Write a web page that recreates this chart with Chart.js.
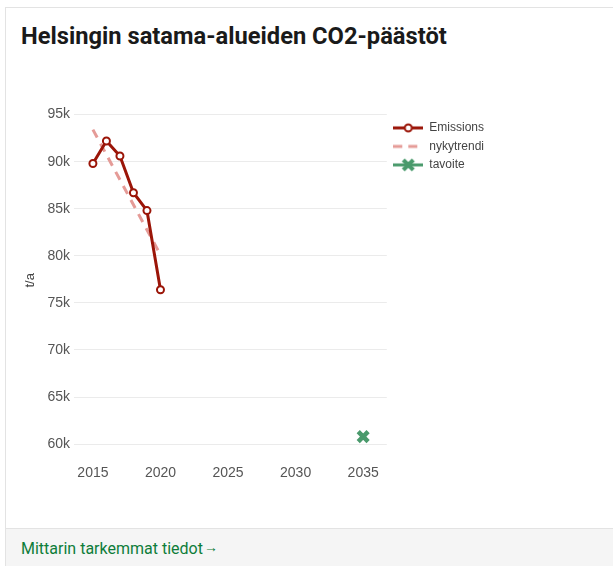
<!DOCTYPE html>
<html>
<head>
<meta charset="utf-8">
<script src="https://cdn.jsdelivr.net/npm/chart.js@4/dist/chart.umd.min.js"></script>
<style>
  html, body { margin: 0; padding: 0; background: #fff; overflow: hidden; }
  .card {
    position: absolute; left: 5px; top: 7px; width: 640px; height: 600px;
    border: 1px solid #e3e3e3; background: #fff;
  }
  h2 {
    position: absolute; left: 15px; top: 14px; margin: 0;
    font-family: "Liberation Sans Narrow", "Roboto", sans-serif;
    font-weight: bold; font-size: 23.7px; color: #1a1a1a; white-space: nowrap;
  }
  .chartbox { position: absolute; left: 15px; top: 81px; width: 580px; height: 399px; }
  .footer {
    position: absolute; left: 0; top: 520px; width: 100%; height: 80px;
    background: #f5f5f5; border-top: 1px solid #e3e3e3;
  }
  .footer a {
    position: absolute; left: 15px; top: 10px; color: #0e7d3a; text-decoration: none;
    font-family: "Liberation Sans Narrow", "Roboto", sans-serif; font-size: 16px;
  }
  .footer a span { font-size: 14px; vertical-align: 2px; margin-left: 1px; }
</style>
</head>
<body>
<div class="card">
  <h2>Helsingin satama-alueiden CO2-päästöt</h2>
  <div class="chartbox"><canvas id="chart"></canvas></div>
  <div class="footer"><a href="#">Mittarin tarkemmat tiedot<span>→</span></a></div>
</div>
<script>
// päästöt (t/a)
const years = [2015, 2016, 2017, 2018, 2019, 2020];
const emissions = [89800, 92200, 90600, 86700, 84800, 76400];
// nykytrendi
const trendYears = [2015, 2020];
const trendValues = [93400, 80100];
// tavoite
const targetYears = [2035];
const targetValues = [60800];

const xTicks = [2015, 2020, 2025, 2030, 2035];
const yTicks = [60000, 65000, 70000, 75000, 80000, 85000, 90000, 95000];

const red = "#9b1508";
const pink = "#e59b97";
const green = "#4a9a6c";

// legendan kuvakkeet (viiva + merkki)
function legendIcon(draw) {
  const c = document.createElement("canvas");
  c.width = 30; c.height = 14;
  const ctx = c.getContext("2d");
  draw(ctx);
  return c;
}
const iconEmissions = legendIcon(ctx => {
  ctx.strokeStyle = red; ctx.lineWidth = 3;
  ctx.beginPath(); ctx.moveTo(0, 7); ctx.lineTo(30, 7); ctx.stroke();
  ctx.fillStyle = "#fff"; ctx.lineWidth = 2;
  ctx.beginPath(); ctx.arc(15, 7, 3.5, 0, Math.PI * 2); ctx.fill(); ctx.stroke();
});
const iconTrend = legendIcon(ctx => {
  ctx.strokeStyle = pink; ctx.lineWidth = 3;
  ctx.setLineDash([9, 6]);
  ctx.beginPath(); ctx.moveTo(0, 7); ctx.lineTo(30, 7); ctx.stroke();
});
const iconTarget = legendIcon(ctx => {
  ctx.strokeStyle = green; ctx.lineWidth = 3;
  ctx.beginPath(); ctx.moveTo(0, 7); ctx.lineTo(30, 7); ctx.stroke();
  ctx.lineWidth = 4;
  ctx.beginPath();
  ctx.moveTo(10, 2); ctx.lineTo(20, 12);
  ctx.moveTo(20, 2); ctx.lineTo(10, 12);
  ctx.stroke();
});
const icons = [iconEmissions, iconTrend, iconTarget];

Chart.defaults.font.family = '"Liberation Sans", Arial, sans-serif';

new Chart(document.getElementById("chart"), {
  type: "line",
  data: {
    datasets: [
      {
        label: "Emissions",
        data: years.map((y, i) => ({ x: y, y: emissions[i] })),
        borderColor: red,
        borderWidth: 3,
        pointRadius: 3.5,
        pointBorderWidth: 2,
        pointBackgroundColor: "#fff",
        pointBorderColor: red,
        tension: 0
      },
      {
        label: "nykytrendi",
        data: trendYears.map((y, i) => ({ x: y, y: trendValues[i] })),
        borderColor: pink,
        borderWidth: 3,
        borderDash: [9, 7],
        pointRadius: 0
      },
      {
        label: "tavoite",
        data: targetYears.map((y, i) => ({ x: y, y: targetValues[i] })),
        borderColor: green,
        showLine: false,
        pointStyle: "crossRot",
        pointRadius: 7,
        pointBorderWidth: 4.5,
        pointBorderColor: green
      }
    ]
  },
  options: {
    responsive: true,
    maintainAspectRatio: false,
    animation: false,
    layout: { padding: { right: 107, top: 0, bottom: 0 } },
    scales: {
      x: {
        type: "linear",
        min: 2013.6,
        max: 2036.75,
        afterBuildTicks: s => { s.ticks = xTicks.map(v => ({ value: v })); },
        grid: { display: false, drawTicks: false },
        border: { display: false },
        ticks: {
          color: "#555",
          font: { size: 14 },
          padding: 6,
          callback: v => String(v)
        }
      },
      y: {
        min: 58400,
        max: 96400,
        afterBuildTicks: s => { s.ticks = yTicks.map(v => ({ value: v })); },
        afterFit: s => { s.width = 53; },
        grid: { color: "#ebebeb", drawTicks: false },
        border: { display: false },
        ticks: {
          color: "#555",
          font: { size: 14 },
          padding: 4,
          callback: v => (v / 1000) + "k"
        },
        title: {
          display: true,
          text: "t/a",
          color: "#444",
          font: { size: 13 },
          padding: { top: 2, bottom: 0 }
        }
      }
    },
    plugins: {
      legend: {
        position: "right",
        align: "start",
        title: {
          display: true,
          text: " ",
          font: { size: 12 },
          padding: { top: 6, bottom: 6 }
        },
        labels: {
          usePointStyle: true,
          pointStyleWidth: 30,
          color: "#444",
          font: { size: 12 },
          padding: 6.5,
          generateLabels: chart => chart.data.datasets.map((d, i) => ({
            text: d.label,
            pointStyle: icons[i],
            fontColor: "#444",
            datasetIndex: i,
            hidden: false,
            lineWidth: 0
          }))
        }
      },
      tooltip: { enabled: false }
    }
  }
});
</script>
</body>
</html>
